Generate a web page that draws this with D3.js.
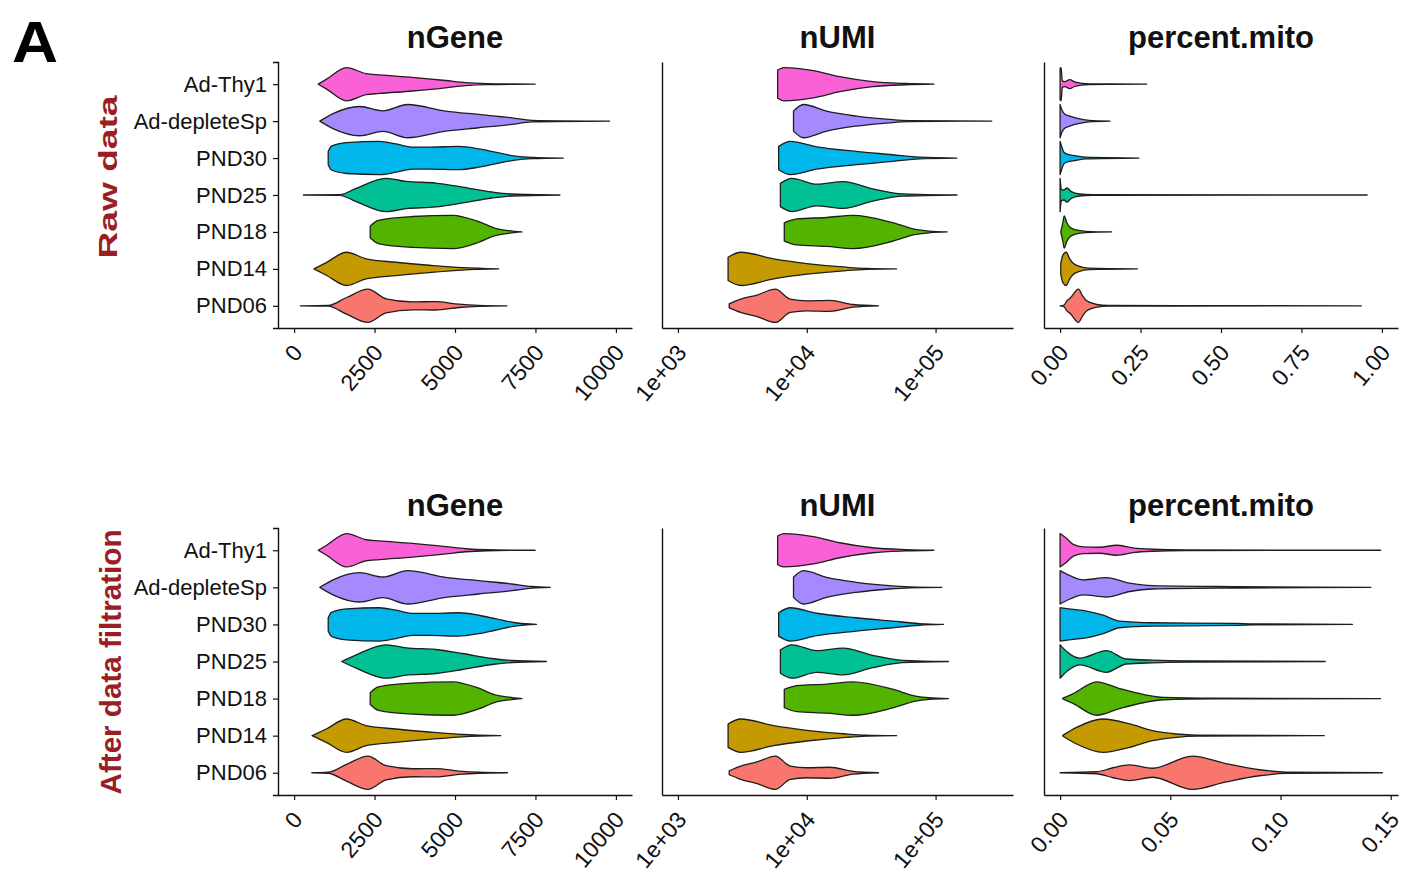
<!DOCTYPE html>
<html>
<head>
<meta charset="utf-8">
<script src="https://cdn.jsdelivr.net/npm/d3@7"></script>
<style>
  body { margin: 0; background: #ffffff; }
  svg text { font-family: "Liberation Sans", Arial, Helvetica, sans-serif; }
</style>
</head>
<body>
<svg id="chart" width="1406" height="879"></svg>
<script>
// ---- categories, labels and ticks ----
const groups = ["Ad-Thy1", "Ad-depleteSp", "PND30", "PND25", "PND18", "PND14", "PND06"];
const groupColors = ["#FB61D7", "#A58AFF", "#00B6EB", "#00C094", "#53B400", "#C49A00", "#F8766D"];
const metrics = ["nGene", "nUMI", "percent.mito"];
const rowTitles = ["Raw data", "After data filtration"];
const panelLetter = "A";

const nGeneLimits = [0, 10000];
const nUMILimits = [1e3, 3e5];
const mitoRawLimits = [0, 1];
const mitoFiltLimits = [0, 0.146];

const nGeneTicks = [0, 2500, 5000, 7500, 10000];
const nUMITicks = [1e3, 1e4, 1e5];
const mitoRawTicks = [0, 0.25, 0.5, 0.75, 1.0];
const mitoFiltTicks = [0, 0.05, 0.10, 0.15];

// ---- violin profiles: [value, relative density], one list per group (groups order) ----
const rawNGene = [
  [[750,0],[1010,0.3],[1630,1],[2240,0.63],[2650,0.56],[3680,0.41],[4710,0.22],[5330,0.09],[6000,0.03],[7490,0]],
  [[800,0],[1210,0.45],[2040,0.88],[2760,0.62],[3530,1],[4710,0.6],[5740,0.4],[6770,0.2],[7390,0.05],[9805,0]],
  [[1060,0.4],[1160,0.72],[1630,0.93],[2650,1],[3170,0.85],[3680,0.66],[4200,0.66],[5120,0.7],[5740,0.55],[6250,0.35],[6870,0.12],[7400,0.04],[8365,0]],
  [[290,0],[1420,0.02],[1930,0.4],[2860,1],[3480,0.82],[4400,0.72],[5230,0.48],[6150,0.18],[6770,0.06],[8260,0]],
  [[2365,0.35],[2620,0.7],[3680,0.93],[4920,1],[5740,0.62],[6250,0.22],[6670,0.08],[7080,0]],
  [[617,0],[1000,0.38],[1630,1],[2240,0.6],[3170,0.4],[4200,0.22],[5230,0.07],[6360,0]],
  [[195,0],[1060,0.02],[1630,0.5],[2295,1],[2860,0.42],[3680,0.24],[4400,0.25],[5120,0.1],[5740,0.03],[6616,0]]
];
const filtNGene = [
  [[750,0],[1010,0.3],[1630,1],[2240,0.63],[2650,0.56],[3680,0.41],[4710,0.22],[5330,0.09],[6000,0.03],[7490,0]],
  [[800,0],[1210,0.45],[2040,0.88],[2760,0.62],[3530,1],[4710,0.6],[5740,0.4],[6770,0.2],[7390,0.05],[7960,0]],
  [[1060,0.4],[1160,0.72],[1630,0.93],[2650,1],[3170,0.85],[3680,0.66],[4200,0.66],[5120,0.7],[5740,0.55],[6250,0.35],[6870,0.1],[7530,0]],
  [[1480,0],[1930,0.4],[2860,1],[3480,0.82],[4400,0.72],[5230,0.48],[6150,0.18],[6770,0.06],[7840,0]],
  [[2365,0.35],[2620,0.7],[3680,0.93],[4920,1],[5740,0.62],[6250,0.22],[6670,0.08],[7080,0]],
  [[560,0],[1000,0.4],[1630,1],[2240,0.6],[3170,0.4],[4200,0.22],[5230,0.07],[6420,0]],
  [[550,0],[1060,0.03],[1630,0.5],[2295,1],[2860,0.42],[3680,0.24],[4400,0.25],[5120,0.1],[5740,0.03],[6630,0]]
];
const rawNUMI = [
  [[5940,0.85],[6610,1],[11250,0.82],[18030,0.45],[32500,0.15],[58700,0.04],[97000,0]],
  [[7890,0.6],[9420,1],[14260,0.6],[24260,0.3],[43760,0.1],[62370,0.03],[272900,0]],
  [[6050,0.7],[7450,1],[11950,0.67],[24260,0.4],[46400,0.2],[74500,0.05],[146600,0]],
  [[6240,0.7],[7670,1],[11950,0.65],[19150,0.8],[32500,0.37],[55300,0.07],[146600,0]],
  [[6690,0.55],[8380,0.78],[14260,0.87],[22860,1],[46400,0.56],[70100,0.15],[88900,0.05],[123000,0]],
  [[2450,0.7],[3070,1],[5530,0.6],[10000,0.32],[20300,0.1],[29000,0.03],[49800,0]],
  [[2500,0.12],[3070,0.4],[4120,0.65],[5700,1],[7450,0.4],[10000,0.3],[15100,0.33],[22860,0.08],[36100,0]]
];
const filtNUMI = [
  [[5940,0.85],[6610,1],[11250,0.82],[18030,0.45],[32500,0.15],[58700,0.04],[97000,0]],
  [[7890,0.6],[9420,1],[14260,0.6],[24260,0.3],[43760,0.1],[62370,0.03],[112000,0]],
  [[6050,0.7],[7450,1],[11950,0.67],[24260,0.4],[46400,0.2],[74500,0.05],[115000,0]],
  [[6240,0.7],[7670,1],[11950,0.65],[19150,0.8],[32500,0.37],[55300,0.07],[126000,0]],
  [[6690,0.55],[8380,0.78],[14260,0.87],[22860,1],[46400,0.56],[70100,0.15],[88900,0.05],[126000,0]],
  [[2450,0.7],[3070,1],[5530,0.6],[10000,0.32],[20300,0.1],[29000,0.03],[49800,0]],
  [[2500,0.12],[3070,0.4],[4120,0.65],[5700,1],[7450,0.4],[10000,0.3],[15100,0.33],[22860,0.08],[36100,0]]
];
const rawMito = [
  [[0,0.95],[0.003,1],[0.007,0.2],[0.015,0.15],[0.03,0.27],[0.045,0.14],[0.065,0.06],[0.09,0.02],[0.269,0]],
  [[0,1],[0.005,0.7],[0.015,0.42],[0.03,0.3],[0.06,0.14],[0.09,0.04],[0.155,0]],
  [[0,1],[0.004,0.75],[0.012,0.35],[0.025,0.22],[0.045,0.15],[0.08,0.05],[0.245,0]],
  [[0,1],[0.004,0.35],[0.012,0.3],[0.021,0.42],[0.035,0.2],[0.06,0.06],[0.1,0.015],[0.954,0]],
  [[0.002,0],[0.008,0.5],[0.013,0.97],[0.02,0.6],[0.03,0.3],[0.05,0.12],[0.08,0.04],[0.16,0]],
  [[0.002,0.3],[0.008,0.8],[0.019,1],[0.03,0.6],[0.04,0.35],[0.06,0.15],[0.09,0.04],[0.24,0]],
  [[0,0],[0.012,0.05],[0.021,0.3],[0.031,0.45],[0.057,1],[0.07,0.6],[0.083,0.3],[0.114,0.08],[0.15,0.02],[0.936,0]]
];
const filtMito = [
  [[0,1],[0.003,0.7],[0.006,0.35],[0.0105,0.2],[0.018,0.18],[0.0256,0.3],[0.033,0.14],[0.042,0.06],[0.057,0.02],[0.1454,0]],
  [[0,1],[0.0045,0.7],[0.0105,0.45],[0.021,0.58],[0.0316,0.25],[0.042,0.1],[0.08,0.04],[0.141,0]],
  [[0,1],[0.006,0.9],[0.012,0.8],[0.0196,0.55],[0.027,0.2],[0.042,0.1],[0.08,0.06],[0.0874,0.03],[0.1326,0]],
  [[0,1],[0.003,0.6],[0.009,0.2],[0.021,0.65],[0.030,0.15],[0.042,0.08],[0.057,0.04],[0.1203,0]],
  [[0.0012,0.02],[0.006,0.3],[0.0166,1],[0.027,0.6],[0.0377,0.25],[0.047,0.07],[0.07,0.02],[0.1454,0]],
  [[0.0012,0.02],[0.0075,0.5],[0.0196,1],[0.0316,0.7],[0.042,0.3],[0.0527,0.1],[0.062,0.03],[0.1198,0]],
  [[0,0],[0.0166,0.06],[0.024,0.3],[0.0316,0.47],[0.042,0.27],[0.06,1],[0.0753,0.55],[0.0904,0.18],[0.1025,0.04],[0.1462,0]]
];

// ---- layout ----
const svg = d3.select("#chart");
const colX = [[278, 632], [662, 1013], [1044, 1398]];
const rowY = [[62, 328], [528, 795]];
const titleBaseline = [48, 516];

function expand(lim, f) { const d = (lim[1] - lim[0]) * f; return [lim[0] - d, lim[1] + d]; }
function expandLog(lim, f) {
  const a = Math.log10(lim[0]), b = Math.log10(lim[1]), d = (b - a) * f;
  return [Math.pow(10, a - d), Math.pow(10, b + d)];
}

const panels = [
  { row: 0, col: 0, data: rawNGene, scale: d3.scaleLinear().domain(expand(nGeneLimits, 0.05)), ticks: nGeneTicks, fmt: d => String(d) },
  { row: 0, col: 1, data: rawNUMI, scale: d3.scaleLog().domain(expandLog(nUMILimits, 0.05)), ticks: nUMITicks, fmt: d => "1e+0" + Math.round(Math.log10(d)) },
  { row: 0, col: 2, data: rawMito, scale: d3.scaleLinear().domain(expand(mitoRawLimits, 0.05)), ticks: mitoRawTicks, fmt: d3.format(".2f") },
  { row: 1, col: 0, data: filtNGene, scale: d3.scaleLinear().domain(expand(nGeneLimits, 0.05)), ticks: nGeneTicks, fmt: d => String(d) },
  { row: 1, col: 1, data: filtNUMI, scale: d3.scaleLog().domain(expandLog(nUMILimits, 0.05)), ticks: nUMITicks, fmt: d => "1e+0" + Math.round(Math.log10(d)) },
  { row: 1, col: 2, data: filtMito, scale: d3.scaleLinear().domain(expand(mitoFiltLimits, 0.05)), ticks: mitoFiltTicks, fmt: d3.format(".2f") }
];

panels.forEach(p => {
  const x = p.scale.range(colX[p.col]);
  const y = d3.scalePoint().domain(groups).range(rowY[p.row]).padding(0.6);
  const halfW = y.step() * 0.45;
  const g = svg.append("g");

  // violins
  groups.forEach((grp, i) => {
    const yc = y(grp);
    const area = d3.area()
      .x(d => x(d[0]))
      .y0(d => yc - d[1] * halfW)
      .y1(d => yc + d[1] * halfW)
      .curve(d3.curveMonotoneX);
    g.append("path")
      .attr("d", area(p.data[i]))
      .attr("fill", groupColors[i])
      .attr("stroke", "#1e1e1e")
      .attr("stroke-width", 1.3)
      .attr("stroke-linejoin", "round");
  });

  // x axis
  const xAxis = g.append("g")
    .attr("transform", `translate(0,${rowY[p.row][1]})`)
    .call(d3.axisBottom(x).tickValues(p.ticks).tickFormat(p.fmt).tickSize(5).tickSizeOuter(0));
  xAxis.select(".domain").attr("stroke", "#111").attr("stroke-width", 1.4);
  xAxis.selectAll(".tick line").attr("stroke", "#111").attr("stroke-width", 1.2);
  xAxis.selectAll(".tick text")
    .attr("x", 0).attr("y", 0).attr("dy", "0.35em")
    .attr("transform", "translate(3,20) rotate(-50)")
    .attr("text-anchor", "end")
    .attr("fill", "#111")
    .style("font-size", "23px");

  // y axis
  const yAxisGen = d3.axisLeft(y).tickSizeOuter(0);
  if (p.col === 0) yAxisGen.tickSize(5).tickPadding(6); else yAxisGen.tickValues([]);
  const yAxis = g.append("g")
    .attr("transform", `translate(${colX[p.col][0]},0)`)
    .call(yAxisGen);
  yAxis.select(".domain").attr("stroke", "#111").attr("stroke-width", 1.4);
  yAxis.selectAll(".tick line").attr("stroke", "#111").attr("stroke-width", 1.2);
  yAxis.selectAll(".tick text").attr("fill", "#111").style("font-size", "22px");

  // panel title
  svg.append("text")
    .attr("x", (colX[p.col][0] + colX[p.col][1]) / 2)
    .attr("y", titleBaseline[p.row])
    .attr("text-anchor", "middle")
    .attr("font-weight", "bold")
    .style("font-size", "31px")
    .attr("fill", "#111")
    .text(metrics[p.col]);
});

// row titles
const rowTitleSpec = [
  { cx: 117, cy: 177, len: 163, size: 25 },
  { cx: 121, cy: 662, len: 265, size: 29 }
];
rowTitles.forEach((t, i) => {
  const s = rowTitleSpec[i];
  svg.append("text")
    .attr("transform", `translate(${s.cx},${s.cy}) rotate(-90)`)
    .attr("text-anchor", "middle")
    .attr("font-weight", "bold")
    .attr("textLength", s.len)
    .attr("lengthAdjust", "spacingAndGlyphs")
    .style("font-size", s.size + "px")
    .attr("fill", "#9A1E24")
    .text(t);
});

// panel letter
svg.append("text")
  .attr("transform", "translate(12,62) scale(1.12,1)")
  .attr("font-weight", "bold")
  .style("font-size", "57px")
  .attr("fill", "#000")
  .text(panelLetter);
</script>
</body>
</html>
